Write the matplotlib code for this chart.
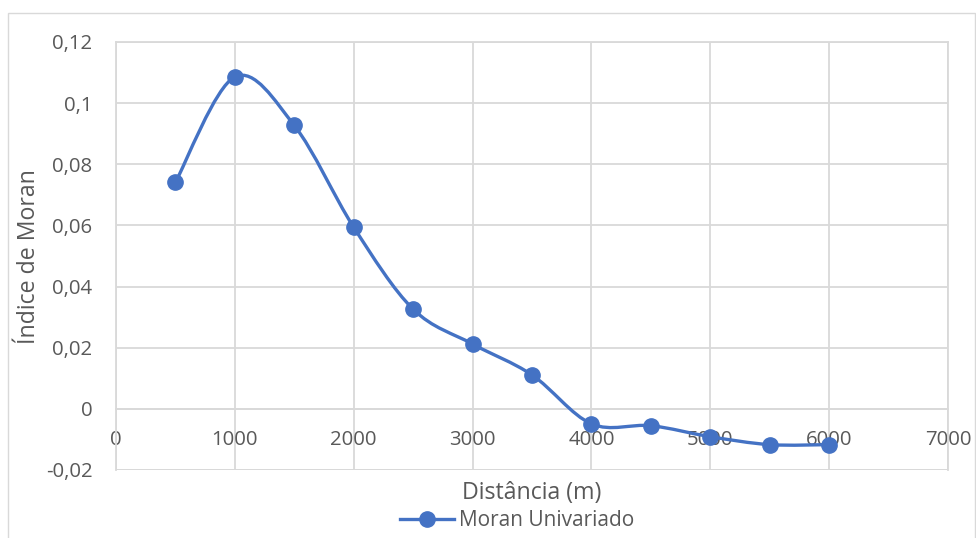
import matplotlib.pyplot as plt
import numpy as np
from matplotlib.path import Path
from matplotlib.patches import PathPatch, Rectangle
from matplotlib.lines import Line2D
from matplotlib.ticker import FuncFormatter

plt.rcParams['font.family'] = ['Open Sans', 'DejaVu Sans']

# dados
distancia = [500, 1000, 1500, 2000, 2500, 3000, 3500, 4000, 4500, 5000, 5500, 6000]
moran = [0.0741, 0.1086, 0.0927, 0.0594, 0.0326, 0.0212, 0.0111,
         -0.0049, -0.0055, -0.0091, -0.0117, -0.0117]
xticks = [0, 1000, 2000, 3000, 4000, 5000, 6000, 7000]
yticks = [-0.02, 0, 0.02, 0.04, 0.06, 0.08, 0.1, 0.12]

azul = '#4472C4'
cinza_txt = '#595959'
cinza_grade = '#D9D9D9'
fs_tick = 14.7
fs_tit = 16.7

fig = plt.figure(figsize=(9.76, 5.38), dpi=100)
# borda externa do grafico (estilo Excel)
fig.patches.append(Rectangle((8 / 976, -0.01), 967 / 976, 1 - 13 / 538 + 0.01,
                             transform=fig.transFigure, fill=False,
                             edgecolor=cinza_grade, lw=1))

ax = fig.add_axes([116 / 976, 68 / 538, 832 / 976, 428 / 538])
ax.set_xlim(0, 7000)
ax.set_ylim(-0.02, 0.12)
ax.set_xticks(xticks)
ax.set_yticks(yticks)
ax.grid(True, color=cinza_grade, lw=1.3)
ax.set_axisbelow(True)
for s in ax.spines.values():
    s.set_color(cinza_grade)
    s.set_linewidth(1.3)
ax.spines['bottom'].set_position(('data', 0))
ax.axhline(-0.02, color=cinza_grade, lw=1.3, zorder=0)

fmt = FuncFormatter(lambda v, p: ('%g' % round(v, 4)).replace('.', ','))
ax.yaxis.set_major_formatter(fmt)
ax.tick_params(axis='both', length=0, labelsize=fs_tick, labelcolor=cinza_txt)
ax.tick_params(axis='y', pad=17)
ax.tick_params(axis='x', pad=15)

# linha suavizada (Catmull-Rom, como no Excel)
pts = np.column_stack([distancia, moran])
verts = [pts[0]]
codes = [Path.MOVETO]
n = len(pts)
for i in range(n - 1):
    p0 = pts[i - 1] if i > 0 else pts[i]
    p1 = pts[i]
    p2 = pts[i + 1]
    p3 = pts[i + 2] if i + 2 < n else pts[i + 1]
    c1 = p1 + (p2 - p0) / 6
    c2 = p2 - (p3 - p1) / 6
    verts += [c1, c2, p2]
    codes += [Path.CURVE4] * 3
ax.add_patch(PathPatch(Path(verts, codes), fill=False, edgecolor=azul,
                       lw=2.4, capstyle='round', joinstyle='round', zorder=3))
ax.plot(distancia, moran, 'o', color=azul, ms=11, zorder=4)

fig.text(532 / 976, 1 - 493 / 538, 'Distância (m)', ha='center', va='center',
         fontsize=fs_tit, color=cinza_txt)
fig.text(29 / 976, 1 - 257 / 538, 'Índice de Moran', ha='center', va='center',
         rotation=90, fontsize=fs_tit, color=cinza_txt)

h = Line2D([], [], color=azul, lw=2.4, marker='o', ms=11)
fig.legend([h], ['Moran Univariado'], loc='center',
           bbox_to_anchor=(517 / 976, 1 - 521 / 538), frameon=False,
           fontsize=15, labelcolor=cinza_txt, handlelength=2.6,
           handletextpad=0.25, borderpad=0)

fig.savefig('out.png', dpi=100)
